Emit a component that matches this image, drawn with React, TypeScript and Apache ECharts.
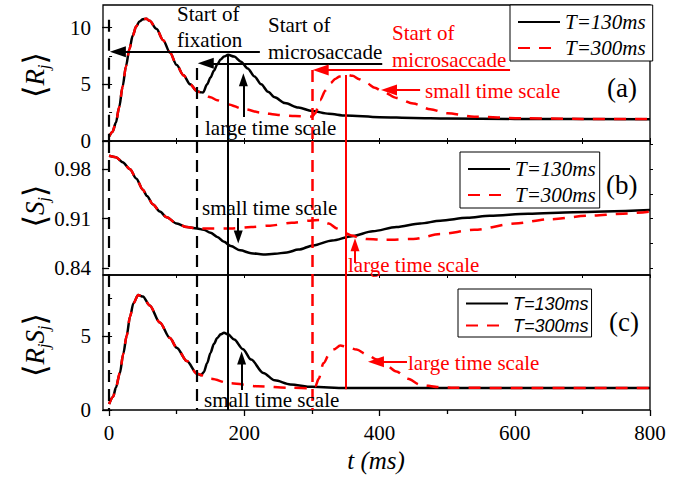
import React, { useEffect, useRef } from 'react';
import * as echarts from 'echarts';

const SERIF = 'Liberation Serif';
const SANS = 'Liberation Sans';
const RED = '#ff0000';

// ---------- data (t in ms, value) ----------
const rShared: [number, number][] = [
  [0, 0.4], [5, 0.8], [10, 1.6], [15, 3.0], [20, 4.8], [25, 6.6], [30, 8.1], [35, 9.3], [40, 10.1],
  [45, 10.55], [50, 10.75], [55, 10.78], [60, 10.6], [70, 9.9], [80, 8.9], [90, 7.8], [100, 6.7],
  [110, 5.8], [120, 5.0], [130, 4.4],
];
const rBlackTail: [number, number][] = [
  [135, 4.3], [139, 4.28], [145, 5.0], [150, 5.6], [155, 6.2], [160, 6.75], [165, 7.2], [170, 7.45],
  [176, 7.6], [185, 7.45], [195, 7.0], [205, 6.4], [215, 5.7], [225, 5.0], [235, 4.35], [245, 3.85],
  [260, 3.35], [280, 2.95], [300, 2.65], [325, 2.4], [350, 2.25], [400, 2.1], [450, 2.03], [500, 1.98],
  [600, 1.95], [800, 1.93],
];
const rRedTail: [number, number][] = [
  [140, 4.1], [150, 3.85], [160, 3.6], [175, 3.25], [200, 2.8], [225, 2.5], [250, 2.3], [275, 2.2],
  [300, 2.15], [305, 2.45], [312, 3.6], [320, 4.45], [327, 5.1], [335, 5.5], [341, 5.7], [351, 5.85],
  [360, 5.75], [370, 5.45], [381, 5.1], [393, 4.7], [405, 4.35], [425, 3.8], [450, 3.3], [475, 2.8],
  [500, 2.45], [540, 2.15], [610, 2.0], [700, 1.95], [800, 1.94],
];

const sShared: [number, number][] = [
  [0, 0.999], [10, 0.997], [20, 0.99], [31, 0.98], [40, 0.967], [50, 0.951], [56, 0.942], [65, 0.93],
  [75, 0.92], [85, 0.912], [100, 0.903], [115, 0.898], [130, 0.896],
];
const sBlackTail: [number, number][] = [
  [140, 0.894], [150, 0.89], [160, 0.884], [170, 0.877], [180, 0.871], [194, 0.865], [210, 0.861],
  [228, 0.859], [245, 0.86], [263, 0.862], [280, 0.866], [302, 0.872], [330, 0.879], [359, 0.885],
  [390, 0.892], [425, 0.898], [460, 0.903], [490, 0.907], [530, 0.911], [563, 0.914], [620, 0.917],
  [687, 0.919], [800, 0.922],
];
const sRedTail: [number, number][] = [
  [150, 0.896], [180, 0.896], [210, 0.898], [238, 0.9], [270, 0.904], [297, 0.907], [312, 0.908],
  [325, 0.903], [337, 0.896], [348, 0.89], [359, 0.886], [370, 0.883], [381, 0.881], [410, 0.88],
  [450, 0.881], [490, 0.888], [540, 0.894], [600, 0.903], [650, 0.909], [710, 0.914], [760, 0.917],
  [800, 0.92],
];

const rsShared: [number, number][] = [
  [0, 0.4], [6, 0.9], [10, 1.5], [16, 2.5], [21, 3.8], [26, 5.0], [31, 6.3], [36, 7.2], [43, 7.75],
  [50, 7.65], [60, 7.05], [75, 5.9], [90, 4.85], [100, 4.2], [115, 3.3], [130, 2.45],
];
const rsBlackTail: [number, number][] = [
  [136, 2.35], [140, 2.55], [145, 3.15], [150, 3.85], [155, 4.45], [160, 4.85], [165, 5.1], [170, 5.2],
  [176, 5.1], [185, 4.75], [198, 4.1], [210, 3.4], [228, 2.5], [245, 2.0], [268, 1.72], [300, 1.56],
  [350, 1.49], [400, 1.48], [800, 1.48],
];
const rsRedTail: [number, number][] = [
  [150, 2.1], [179, 1.8], [220, 1.6], [268, 1.5], [300, 1.46], [305, 1.6], [310, 2.1], [317, 3.15],
  [325, 3.7], [332, 4.07], [342, 4.34], [352, 4.25], [366, 4.07], [381, 3.75], [396, 3.4], [410, 3.0],
  [425, 2.6], [442, 2.1], [460, 1.71], [485, 1.55], [510, 1.5], [600, 1.48], [800, 1.48],
];

// axis ticks / labels
const xMajor = [0, 200, 400, 600, 800];
const xMinor = [100, 300, 500, 700];
const xAll = [0, 100, 200, 300, 400, 500, 600, 700, 800];
const yTicksA = [0, 5, 10];
const yTicksB = [0.84, 0.91, 0.98];
const yTicksC = [0, 5];
const yRightA = [0, 2.5, 5, 7.5, 10];
const yRightB = [0.84, 0.875, 0.91, 0.945, 0.98, 1.015];
const yRightC = [0, 2.5, 5, 7.5];

const seriesNames = ['T=130ms', 'T=300ms'];

// event times (ms)
const tFix = 0;
const tMs1 = 130;
const tPeak1 = 176;
const tMs2 = 300;
const tPeak2 = 350;

export default function App() {
  const ref = useRef<HTMLDivElement>(null);
  useEffect(() => {
    const chart = echarts.init(ref.current!, null, { renderer: 'svg' });

    const ls = (color: string, width: number, type: any) => ({ color, width, type });
    const vline = (t: number, y1: number, y2: number, color: string, type: any, width = 2) => {
      const lineStyle = ls(color, width, type);
      return [
        { coord: [t, y1], symbol: 'none', lineStyle },
        { coord: [t, y2], symbol: 'none', lineStyle },
      ];
    };
    const arrow = (x1: number, y1: number, x2: number, y2: number, color: string, size: number[]) => {
      const lineStyle = ls(color, 2, 'solid');
      return [
        { coord: [x1, y1], symbol: 'none', lineStyle },
        { coord: [x2, y2], symbol: 'triangle', symbolSize: size, lineStyle, itemStyle: { color } },
      ];
    };
    const DASH = [12, 7];
    const big = [11, 16];
    const small = [9, 13];

    const markA = [
      vline(tFix, 10.7, 0, '#000', DASH, 2.2),
      vline(tMs1, 6.44, 0, '#000', DASH, 2.2),
      vline(tPeak1, 7.6, 0, '#000', 'solid'),
      vline(tMs2, 6.26, 0, RED, DASH, 2.5),
      vline(tPeak2, 5.83, 0, RED, 'solid'),
      arrow(223, 7.88, 13, 7.88, '#000', big),
      arrow(404, 6.86, 143, 6.86, '#000', big),
      arrow(593, 6.26, 313, 6.26, RED, big),
      arrow(460, 4.5, 414, 4.5, RED, big),
      arrow(198.6, 2.12, 198.6, 5.41, '#000', small),
    ];
    const markB = [
      vline(tFix, 1.02, 0.83, '#000', DASH, 2.2),
      vline(tMs1, 1.02, 0.83, '#000', DASH, 2.2),
      vline(tPeak1, 1.02, 0.83, '#000', 'solid'),
      vline(tMs2, 1.02, 0.83, RED, DASH, 2.5),
      vline(tPeak2, 1.02, 0.83, RED, 'solid'),
      arrow(191, 0.9109, 191, 0.8839, '#000', small),
      arrow(363.7, 0.847, 363.7, 0.873, RED, small),
    ];
    const markC = [
      vline(tFix, 9.1, 0, '#000', DASH, 2.2),
      vline(tMs1, 9.1, 0, '#000', DASH, 2.2),
      vline(tPeak1, 9.1, 0, '#000', 'solid'),
      vline(tMs2, 9.1, 0, RED, DASH, 2.5),
      vline(tPeak2, 9.1, 1.4, RED, 'solid'),
      arrow(196, 1.35, 196, 3.5, '#000', small),
      arrow(440.6, 3.26, 394.7, 3.26, RED, big),
    ];

    const markLine = (data: any[]) => ({
      silent: true,
      animation: false,
      symbol: ['none', 'none'],
      label: { show: false },
      emphasis: { disabled: true },
      data,
    });

    const lineSeries = (name: string, data: [number, number][], gi: number, red: boolean, marks?: any[]) => ({
      type: 'line',
      name,
      xAxisIndex: gi,
      yAxisIndex: gi,
      data,
      symbol: 'none',
      showSymbol: false,
      smooth: 0.3,
      smoothMonotone: 'x',
      z: red ? 3 : 2,
      lineStyle: red ? { color: RED, width: 2.5, type: [12, 9] } : { color: '#000', width: 2.5 },
      itemStyle: { color: red ? RED : '#000' },
      emphasis: { disabled: true },
      markLine: marks ? markLine(marks) : undefined,
    });

    const grids = [
      { left: 103, top: 5, width: 547, height: 136 },
      { left: 103, top: 141, width: 547, height: 134 },
      { left: 103, top: 275, width: 547, height: 135 },
    ].map((g) => ({ ...g, show: true, borderColor: '#000', borderWidth: 1.3, backgroundColor: 'transparent' }));

    const baseX = (gi: number, extra: any) => ({
      type: 'value',
      gridIndex: gi,
      min: -9,
      max: 800,
      position: 'bottom',
      axisLine: { show: false },
      splitLine: { show: false },
      axisLabel: { show: false },
      ...extra,
    });

    const xAxis = [
      baseX(0, { axisTick: { show: true, customValues: xAll, length: 3, lineStyle: { color: '#000', width: 1 } } }),
      baseX(1, { axisTick: { show: true, customValues: xAll, length: 3, lineStyle: { color: '#000', width: 1 } } }),
      baseX(2, {
        axisTick: { show: true, customValues: xMajor, length: 6, lineStyle: { color: '#000', width: 1.3 } },
        axisLabel: {
          show: true,
          customValues: xMajor,
          fontFamily: SERIF,
          fontSize: 21,
          color: '#000',
          margin: 12,
        },
      }),
      baseX(2, { axisTick: { show: true, customValues: xMinor, length: 4, lineStyle: { color: '#000', width: 1.3 } } }),
      baseX(0, {
        position: 'top',
        axisTick: { show: true, customValues: xAll, length: 3, lineStyle: { color: '#000', width: 1 } },
      }),
    ];

    const leftY = (gi: number, min: number, max: number, ticks: number[], fmt: (v: number) => string) => ({
      type: 'value',
      gridIndex: gi,
      min,
      max,
      position: 'left',
      axisLine: { show: false },
      splitLine: { show: false },
      axisTick: { show: true, customValues: ticks, length: 7, lineStyle: { color: '#000', width: 1.3 } },
      axisLabel: {
        show: true,
        customValues: ticks,
        formatter: fmt,
        fontFamily: SERIF,
        fontSize: 21,
        color: '#000',
        margin: 12,
      },
    });
    const rightY = (gi: number, min: number, max: number, ticks: number[]) => ({
      type: 'value',
      gridIndex: gi,
      min,
      max,
      position: 'right',
      axisLine: { show: false },
      splitLine: { show: false },
      axisTick: { show: true, customValues: ticks, length: 3, lineStyle: { color: '#000', width: 1 } },
      axisLabel: { show: false },
    });

    const yAxis = [
      leftY(0, 0, 12, yTicksA, (v) => String(v)),
      leftY(1, 0.83, 1.02, yTicksB, (v) => v.toFixed(2)),
      leftY(2, 0, 9.1, yTicksC, (v) => String(v)),
      rightY(0, 0, 12, yRightA),
      rightY(1, 0.83, 1.02, yRightB),
      rightY(2, 0, 9.1, yRightC),
    ];

    const series = [
      lineSeries(seriesNames[0], rShared.concat(rBlackTail), 0, false, markA),
      lineSeries(seriesNames[1], rShared.concat(rRedTail), 0, true),
      lineSeries(seriesNames[0], sShared.concat(sBlackTail), 1, false, markB),
      lineSeries(seriesNames[1], sShared.concat(sRedTail), 1, true),
      lineSeries(seriesNames[0], rsShared.concat(rsBlackTail), 2, false, markC),
      lineSeries(seriesNames[1], rsShared.concat(rsRedTail), 2, true),
    ];

    const legendBase = (left: number, top: number, font: string, size: number, lh: number, gap: number, pad: number[]) => ({
      left,
      top,
      orient: 'vertical',
      data: seriesNames,
      selectedMode: false,
      itemWidth: 42,
      itemHeight: 14,
      itemGap: gap,
      padding: pad,
      borderColor: '#000',
      borderWidth: 1,
      borderRadius: 0,
      backgroundColor: '#fff',
      itemStyle: { opacity: 0 },
      textStyle: { fontFamily: font, fontStyle: 'italic', fontSize: size, color: '#000', lineHeight: lh },
    });

    const legend = [
      legendBase(510, 5, SERIF, 21, 22, 4, [6, 7, 2, 7]),
      legendBase(460, 152, SERIF, 21, 22, 4, [6, 4, 2, 7]),
      legendBase(458, 289, SANS, 18, 19, 3, [5, 3, 2, 7]),
    ];

    const txt = (text: string, x: number, y: number, color = '#000', size = 21, extra: any = {}) => ({
      type: 'text',
      x,
      y,
      silent: true,
      z: 10,
      style: {
        text,
        fill: color,
        fontFamily: SERIF,
        fontSize: size,
        align: 'left',
        verticalAlign: 'middle',
        ...extra,
      },
    });

    const yTitle = (text: string, x: number, y: number) => ({
      type: 'text',
      x,
      y,
      rotation: Math.PI / 2,
      silent: true,
      style: {
        text,
        align: 'center',
        verticalAlign: 'middle',
        fill: '#000',
        rich: {
          b: { fontFamily: 'DejaVu Sans', fontSize: 32, fill: '#000', verticalAlign: 'middle' },
          i: { fontFamily: SERIF, fontStyle: 'italic', fontSize: 27, fill: '#000', verticalAlign: 'middle' },
          s: { fontFamily: SERIF, fontStyle: 'italic', fontSize: 16, fill: '#000', verticalAlign: 'bottom' },
        },
      },
    });

    const graphic = [
      txt('Start of', 177, 14),
      txt('fixation', 177, 40),
      txt('Start of', 268, 25),
      txt('microsaccade', 268, 52),
      txt('Start of', 392, 33, RED),
      txt('microsaccade', 392, 60, RED),
      txt('small time scale', 425, 91, RED),
      txt('large time scale', 205, 128),
      txt('(a)', 607, 88, '#000', 27),
      txt('small time scale', 202, 208),
      txt('large time scale', 348, 265, RED),
      txt('(b)', 606, 185, '#000', 27),
      txt('small time scale', 204, 400),
      txt('large time scale', 408, 363, RED),
      txt('(c)', 609, 322, '#000', 27),
      txt('t (ms)', 376, 460, '#000', 25, { align: 'center', fontStyle: 'italic' }),
      yTitle('{b|⟨}{i|R}{s|j}{b|⟩}', 35, 75),
      yTitle('{b|⟨}{i|S}{s|j}{b|⟩}', 35, 206),
      yTitle('{b|⟨}{i|R}{s|j}{i|S}{s|j}{b|⟩}', 35, 345),
    ];

    chart.setOption({
      animation: false,
      backgroundColor: '#fff',
      textStyle: { fontFamily: SERIF },
      grid: grids,
      xAxis,
      yAxis,
      series,
      legend,
      graphic,
    });
    return () => chart.dispose();
  }, []);
  return <div ref={ref} style={{ position: 'absolute', left: 0, top: 0, width: 690, height: 479 }} />;
}
